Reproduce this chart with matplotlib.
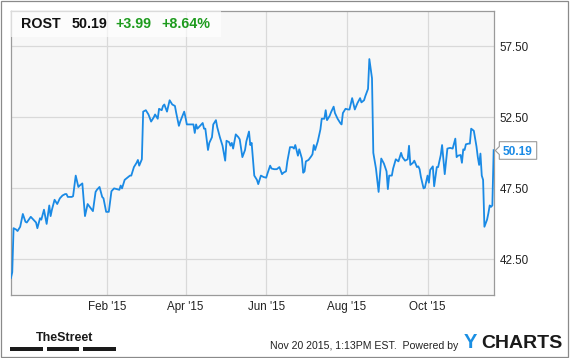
import matplotlib
matplotlib.use("Agg")
import matplotlib.pyplot as plt
import matplotlib.dates as mdates
from matplotlib.transforms import Affine2D
from matplotlib.patches import Rectangle, Polygon
from matplotlib import font_manager
from datetime import datetime, timedelta

plt.rcParams['font.family'] = ['Liberation Sans', 'DejaVu Sans']

# ---------------- data ----------------
dates = [
    "2014-11-20", "2014-11-21", "2014-11-22", "2014-11-24", "2014-11-25", "2014-11-27", "2014-11-29",
    "2014-12-01", "2014-12-02", "2014-12-05", "2014-12-07", "2014-12-09", "2014-12-10", "2014-12-12",
    "2014-12-13", "2014-12-15", "2014-12-17", "2014-12-19", "2014-12-20", "2014-12-21", "2014-12-23",
    "2014-12-25", "2014-12-27", "2014-12-29", "2014-12-31", "2015-01-01", "2015-01-02", "2015-01-05",
    "2015-01-06", "2015-01-08", "2015-01-10", "2015-01-11", "2015-01-13", "2015-01-15", "2015-01-17",
    "2015-01-19", "2015-01-21", "2015-01-23", "2015-01-24", "2015-01-26", "2015-01-28", "2015-01-29",
    "2015-01-31", "2015-02-02", "2015-02-04", "2015-02-06", "2015-02-08", "2015-02-10", "2015-02-11",
    "2015-02-12", "2015-02-14", "2015-02-16", "2015-02-18", "2015-02-19", "2015-02-21", "2015-02-23",
    "2015-02-24", "2015-02-25", "2015-02-27", "2015-02-28", "2015-03-02", "2015-03-04", "2015-03-06",
    "2015-03-08", "2015-03-09", "2015-03-11", "2015-03-12", "2015-03-14", "2015-03-15", "2015-03-16",
    "2015-03-18", "2015-03-20", "2015-03-22", "2015-03-24", "2015-03-25", "2015-03-27", "2015-03-28",
    "2015-03-31", "2015-04-01", "2015-04-02", "2015-04-04", "2015-04-07", "2015-04-08", "2015-04-09",
    "2015-04-10", "2015-04-12", "2015-04-14", "2015-04-15", "2015-04-16", "2015-04-18", "2015-04-19",
    "2015-04-21", "2015-04-22", "2015-04-24", "2015-04-25", "2015-04-27", "2015-04-29", "2015-05-01",
    "2015-05-02", "2015-05-04", "2015-05-05", "2015-05-06", "2015-05-07", "2015-05-09", "2015-05-11",
    "2015-05-12", "2015-05-14", "2015-05-16", "2015-05-17", "2015-05-19", "2015-05-20", "2015-05-21",
    "2015-05-23", "2015-05-25", "2015-05-26", "2015-05-28", "2015-05-30", "2015-06-01", "2015-06-02",
    "2015-06-04", "2015-06-05", "2015-06-07", "2015-06-09", "2015-06-11", "2015-06-13", "2015-06-14",
    "2015-06-16", "2015-06-17", "2015-06-19", "2015-06-21", "2015-06-22", "2015-06-23", "2015-06-25",
    "2015-06-26", "2015-06-28", "2015-06-29", "2015-06-30", "2015-07-01", "2015-07-03", "2015-07-05",
    "2015-07-06", "2015-07-07", "2015-07-08", "2015-07-10", "2015-07-12", "2015-07-13", "2015-07-15",
    "2015-07-16", "2015-07-17", "2015-07-19", "2015-07-20", "2015-07-22", "2015-07-23", "2015-07-25",
    "2015-07-27", "2015-07-28", "2015-07-29", "2015-07-31", "2015-08-02", "2015-08-03", "2015-08-05",
    "2015-08-07", "2015-08-09", "2015-08-11", "2015-08-12", "2015-08-14", "2015-08-15", "2015-08-17",
    "2015-08-18", "2015-08-20", "2015-08-21", "2015-08-23", "2015-08-25", "2015-08-27", "2015-08-29",
    "2015-08-31", "2015-09-01", "2015-09-02", "2015-09-04", "2015-09-05", "2015-09-07", "2015-09-09",
    "2015-09-11", "2015-09-12", "2015-09-14", "2015-09-16", "2015-09-17", "2015-09-18", "2015-09-20",
    "2015-09-21", "2015-09-23", "2015-09-24", "2015-09-25", "2015-09-26", "2015-09-28", "2015-09-29",
    "2015-10-01", "2015-10-02", "2015-10-03", "2015-10-05", "2015-10-06", "2015-10-08", "2015-10-09",
    "2015-10-11", "2015-10-12", "2015-10-14", "2015-10-16", "2015-10-18", "2015-10-20", "2015-10-22",
    "2015-10-23", "2015-10-24", "2015-10-26", "2015-10-27", "2015-10-28", "2015-10-29", "2015-10-30",
    "2015-11-01", "2015-11-02", "2015-11-03", "2015-11-05", "2015-11-07", "2015-11-08", "2015-11-09",
    "2015-11-10", "2015-11-11", "2015-11-12", "2015-11-13", "2015-11-15", "2015-11-16", "2015-11-17",
    "2015-11-18", "2015-11-19", "2015-11-20",
]
prices = [
    41.2, 41.6, 44.7, 44.6, 44.5, 44.8, 45.7,
    45.15, 45.1, 45.5, 45.3, 45.1, 44.7, 45.4,
    45.3, 46.0, 45.0, 46.3, 45.55, 46.0, 46.7,
    46.4, 46.8, 47.0, 47.1, 47.1, 46.9, 46.9,
    46.95, 48.4, 47.6, 47.7, 47.85, 45.55, 46.4,
    46.15, 45.9, 47.25, 47.4, 47.6, 46.9, 46.8,
    45.85, 45.85, 47.3, 47.5, 47.45, 47.4, 47.7,
    47.5, 48.1, 48.25, 48.4, 48.4, 49.0, 49.3,
    49.5, 49.1, 49.55, 52.9, 53.0, 52.7, 52.2,
    52.5, 52.7, 52.4, 53.1, 53.0, 53.3, 53.4,
    52.9, 53.7, 53.4, 53.3, 52.8, 51.9, 52.2,
    52.9, 52.5, 52.0, 52.0, 52.0, 51.4, 52.0,
    51.7, 51.9, 52.1, 51.7, 51.7, 50.2, 50.7,
    51.1, 52.0, 52.3, 51.8, 51.1, 50.5, 49.45,
    50.85, 50.75, 50.5, 50.7, 50.3, 51.3, 51.1,
    50.95, 49.7, 50.2, 50.8, 51.5, 50.55, 50.7,
    48.4, 48.1, 47.8, 48.4, 48.3, 48.25, 48.55,
    49.1, 48.9, 48.85, 48.85, 49.0, 48.5, 48.6,
    48.7, 49.4, 50.4, 50.4, 50.3, 50.55, 49.8,
    50.25, 49.6, 48.6, 48.7, 49.4, 49.5, 49.75,
    49.9, 50.55, 50.2, 50.8, 51.65, 52.4, 52.4,
    53.0, 52.3, 52.6, 52.85, 53.25, 52.8, 52.4,
    52.1, 52.0, 52.8, 53.1, 53.05, 53.05, 53.85,
    53.05, 53.5, 53.85, 53.55, 53.7, 54.0, 54.5,
    56.6, 55.25, 50.0, 48.9, 47.25, 49.6, 49.25,
    48.7, 47.45, 48.4, 48.4, 48.9, 49.55, 49.4,
    50.0, 49.7, 49.45, 49.55, 50.5, 49.15, 49.3,
    49.45, 49.0, 49.05, 48.85, 48.3, 47.5, 47.55,
    48.4, 47.9, 48.8, 49.05, 47.65, 49.0, 49.0,
    49.85, 50.55, 48.5, 50.3, 50.35, 50.3, 51.0,
    49.7, 49.8, 49.85, 49.3, 50.25, 50.2, 50.6,
    50.65, 50.65, 51.7, 51.55, 50.45, 49.7, 49.15,
    49.95, 48.4, 48.1, 44.8, 45.3, 45.75, 46.3,
    46.2, 46.3, 50.19,
]
ytick_values = [42.5, 47.5, 52.5, 57.5]
ytick_labels = ["42.50", "47.50", "52.50", "57.50"]
xtick_dates = ["2015-02-01", "2015-04-01", "2015-06-01", "2015-08-01", "2015-10-01"]
xtick_labels = ["Feb '15", "Apr '15", "Jun '15", "Aug '15", "Oct '15"]
ticker = "ROST"
last_price = "50.19"
change = "+3.99"
change_pct = "+8.64%"
footer_time = "Nov 20 2015, 1:13PM EST.  Powered by"

# ---------------- figure ----------------
W, H = 575, 358
fig = plt.figure(figsize=(W / 100, H / 100), dpi=100)
fig.patch.set_facecolor("white")
pix = Affine2D().scale(1.0 / W, -1.0 / H).translate(0, 1) + fig.transFigure

left, right, top, bottom = 10.7, 494.0, 10.7, 295.0
ax = fig.add_axes([left / W, 1 - bottom / H, (right - left) / W, (bottom - top) / H])
ax.set_facecolor("#f7f7f7")

d = [datetime.strptime(s, "%Y-%m-%d") for s in dates]
ax.plot(d, prices, color="#1a8ae5", lw=1.3, solid_joinstyle="round", zorder=3)

ax.set_xlim(datetime(2014, 11, 19, 20), datetime(2015, 11, 20, 6))
ax.set_ylim(40, 60)

ax.set_xticks([datetime.strptime(s, "%Y-%m-%d") for s in xtick_dates])
ax.set_xticklabels(xtick_labels)
ax.set_yticks(ytick_values)
ax.set_yticklabels(ytick_labels)
ax.yaxis.tick_right()
ax.tick_params(axis="both", length=0, labelsize=8.4, labelcolor="#222222")
ax.tick_params(axis="y", pad=4)
ax.tick_params(axis="x", pad=4.5)
ax.grid(True, color="#d9d9d9", lw=0.9, zorder=0)
ax.set_axisbelow(True)
for s in ax.spines.values():
    s.set_color("#9a9a9a")
    s.set_linewidth(0.9)

# header box
fig.patches.append(Rectangle((11, 11), 210, 25.7, transform=pix, facecolor="white",
                             alpha=0.65, edgecolor="none", zorder=5))
hdr = dict(transform=pix, fontsize=10.3, fontweight="bold", va="baseline", zorder=6)
fig.text(21.3, 27.5, ticker, color="#111111", **hdr)
fig.text(71.7, 27.5, last_price, color="#111111", **hdr)
fig.text(115.7, 27.5, change, color="#1e9b1e", **hdr)
fig.text(161.0, 27.5, change_pct, color="#1e9b1e", **hdr)

# last value callout
x0, x1, y0, y1 = 499.3, 536.7, 141.7, 159.3
fig.patches.append(Polygon([(x0, y0), (x1, y0), (x1, y1), (x0, y1), (x0, 154.5),
                            (495.3, 150.5), (x0, 146.5)], closed=True, transform=pix,
                           facecolor="white", edgecolor="#9a9a9a", lw=0.8, zorder=5))
fig.text(502.3, 155.0, last_price, transform=pix, fontsize=8.6, fontweight="bold",
         color="#1a8ae5", va="baseline", zorder=6)

# footer: TheStreet logo text and bars
names = {f.name for f in font_manager.fontManager.ttflist}
if "Liberation Sans Narrow" in names:
    fig.text(36, 340.7, "TheStreet", transform=pix, family="Liberation Sans Narrow",
             fontsize=10.6, fontweight="bold", color="#1a1a1a", va="baseline")
else:
    fig.text(36, 340.7, "TheStreet", transform=pix, fontsize=9.0, fontweight="bold",
             color="#1a1a1a", va="baseline")
for bx0, bx1 in [(10, 42.7), (46.7, 79), (83.3, 115.7)]:
    fig.patches.append(Rectangle((bx0, 347.3), bx1 - bx0, 3.4, transform=pix,
                                 facecolor="#1a1a1a", edgecolor="none"))

fig.text(269.5, 349.0, footer_time, transform=pix, fontsize=7.6, color="#222222",
         va="baseline")
fig.text(463.3, 348.3, "Y", transform=pix, fontsize=14.5, fontweight="bold",
         color="#1a8fe3", va="baseline")
fig.text(481.7, 348.3, "CHARTS", transform=pix, fontsize=14, fontweight="bold",
         color="#1a1a1a", va="baseline")

# outer border
fig.patches.append(Rectangle((1, 1), 567.3, 355.7, transform=pix, facecolor="none",
                             edgecolor="#8a8a8a", lw=0.9))

fig.savefig("out.png", dpi=100)
